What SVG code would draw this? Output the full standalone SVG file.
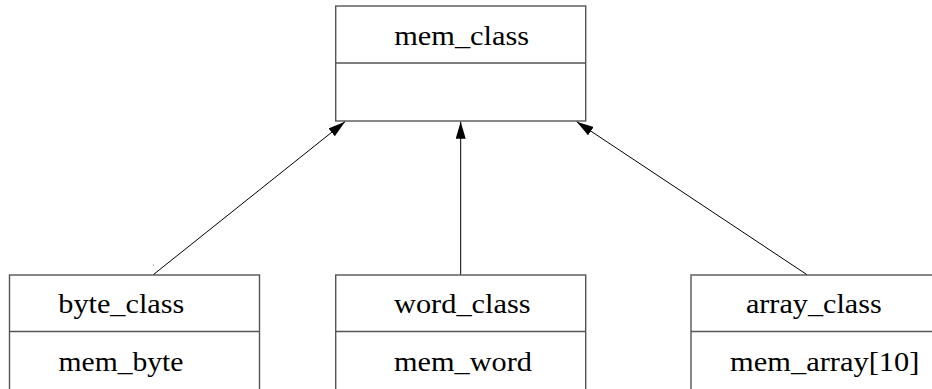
<svg xmlns="http://www.w3.org/2000/svg" width="932" height="389" viewBox="0 0 932 389">
<style>
.box{fill:#fff;stroke:#555;stroke-width:1.4}
.div{stroke:#555;stroke-width:1.4}
.t{font-family:"Liberation Serif","Times New Roman",serif;font-size:27px;fill:#000;text-anchor:middle}
.edge{stroke:#000;stroke-width:1;fill:none;marker-end:url(#ah)}
</style>
<defs>
<marker id="ah" markerUnits="userSpaceOnUse" markerWidth="18" markerHeight="12" refX="17" refY="5" orient="auto">
<path d="M0,0 L17,5 L0,10 Z" fill="#000"/>
</marker>
</defs>
<rect width="932" height="389" fill="#fff"/>
<g id="mem_class">
<rect class="box" x="335.7" y="6" width="250" height="115"/>
<line class="div" x1="335.7" y1="63" x2="585.7" y2="63"/>
<text class="t" x="461.7" y="45" textLength="135" lengthAdjust="spacingAndGlyphs">mem_class</text>
</g>
<g id="byte_class">
<rect class="box" x="9.5" y="275" width="250" height="120"/>
<line class="div" x1="9.5" y1="331.5" x2="259.5" y2="331.5"/>
<text class="t" x="121.3" y="312.5" textLength="126" lengthAdjust="spacingAndGlyphs">byte_class</text>
<text class="t" x="121" y="370.5" textLength="125" lengthAdjust="spacingAndGlyphs">mem_byte</text>
</g>
<g id="word_class">
<rect class="box" x="335.7" y="275" width="250" height="120"/>
<line class="div" x1="335.7" y1="331.5" x2="585.7" y2="331.5"/>
<text class="t" x="462.3" y="312.5" textLength="136.7" lengthAdjust="spacingAndGlyphs">word_class</text>
<text class="t" x="463" y="370.5" textLength="138" lengthAdjust="spacingAndGlyphs">mem_word</text>
</g>
<g id="array_class">
<rect class="box" x="691" y="275" width="250" height="120"/>
<line class="div" x1="691" y1="331.5" x2="941" y2="331.5"/>
<text class="t" x="813.8" y="312.5" textLength="135.7" lengthAdjust="spacingAndGlyphs">array_class</text>
<text class="t" x="824.7" y="370.5" textLength="189.3" lengthAdjust="spacingAndGlyphs">mem_array[10]</text>
</g>
<g id="connectors">
<line class="edge" x1="153.5" y1="274.5" x2="345" y2="121.7"/>
<line class="edge" x1="460.7" y1="274.5" x2="460.7" y2="121.7"/>
<line class="edge" x1="806.7" y1="274.5" x2="576.7" y2="121.7"/>
</g>
<circle cx="153.3" cy="265" r="0.5" fill="#444"/>
</svg>
